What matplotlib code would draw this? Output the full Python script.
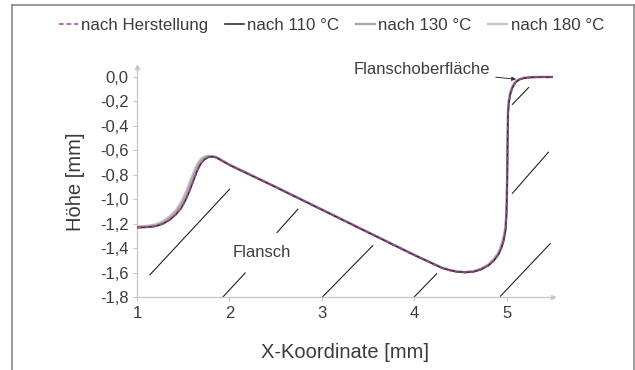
import matplotlib
matplotlib.use("Agg")
import matplotlib.pyplot as plt
from matplotlib.lines import Line2D

plt.rcParams['font.family'] = ['Liberation Sans', 'DejaVu Sans']

# Profil-Messung (x in mm, Höhe in mm)
x_mm = [1.00, 1.10, 1.20, 1.28, 1.35, 1.42, 1.48, 1.53, 1.57, 1.61, 1.65, 1.69, 1.73, 1.77,
        1.81, 1.86, 2.00, 2.50, 3.00, 3.50, 4.00, 4.30, 4.38, 4.46, 4.55, 4.64, 4.72, 4.80,
        4.86, 4.91, 4.94, 4.965, 4.985, 4.995, 5.003, 5.008, 5.012, 5.02, 5.035, 5.06, 5.09,
        5.13, 5.18, 5.25, 5.35, 5.50]

y_herstellung = [-1.23, -1.228, -1.22, -1.20, -1.17, -1.125, -1.07, -1.00, -0.93, -0.85, -0.77,
                 -0.71, -0.675, -0.657, -0.652, -0.66, -0.72, -0.90, -1.085, -1.27, -1.455, -1.56,
                 -1.58, -1.592, -1.597, -1.592, -1.574, -1.54, -1.50, -1.45, -1.40, -1.34, -1.26,
                 -1.15, -0.90, -0.55, -0.32, -0.22, -0.15, -0.09, -0.05, -0.025, -0.012, -0.005,
                 -0.003, -0.003]
y_110 = [-1.23, -1.228, -1.22, -1.20, -1.17, -1.125, -1.07, -1.00, -0.93, -0.85, -0.77,
         -0.71, -0.675, -0.657, -0.652, -0.66, -0.72, -0.90, -1.085, -1.27, -1.455, -1.56,
         -1.577, -1.59, -1.595, -1.59, -1.572, -1.54, -1.50, -1.45, -1.40, -1.34, -1.26,
         -1.15, -0.90, -0.55, -0.32, -0.22, -0.15, -0.09, -0.05, -0.025, -0.012, -0.005,
         -0.003, -0.003]
y_130 = [-1.225, -1.222, -1.212, -1.19, -1.155, -1.105, -1.04, -0.965, -0.89, -0.81, -0.735,
         -0.685, -0.66, -0.648, -0.648, -0.657, -0.717, -0.898, -1.083, -1.268, -1.453, -1.558,
         -1.576, -1.589, -1.594, -1.588, -1.568, -1.535, -1.49, -1.44, -1.385, -1.32, -1.24,
         -1.12, -0.86, -0.52, -0.30, -0.205, -0.14, -0.082, -0.045, -0.022, -0.01, -0.004,
         -0.002, -0.002]
y_180 = [-1.22, -1.217, -1.205, -1.18, -1.14, -1.09, -1.02, -0.94, -0.86, -0.785, -0.715,
         -0.67, -0.652, -0.645, -0.646, -0.655, -0.715, -0.896, -1.081, -1.266, -1.451, -1.556,
         -1.574, -1.587, -1.592, -1.586, -1.565, -1.53, -1.485, -1.43, -1.37, -1.30, -1.22,
         -1.10, -0.83, -0.50, -0.29, -0.195, -0.13, -0.076, -0.04, -0.02, -0.008, -0.003,
         -0.001, -0.001]

# Schraffur des Flansches (Start- und Endpunkte)
hatch_x0 = [1.14, 1.93, 2.515, 3.00, 3.98, 4.93, 5.06, 5.06]
hatch_y0 = [-1.615, -1.795, -1.27, -1.80, -1.81, -1.79, -0.95, -0.225]
hatch_x1 = [2.00, 2.17, 2.74, 3.55, 4.24, 5.47, 5.45, 5.235]
hatch_y1 = [-0.918, -1.60, -1.08, -1.377, -1.607, -1.36, -0.615, -0.088]

y_ticks = [0.0, -0.2, -0.4, -0.6, -0.8, -1.0, -1.2, -1.4, -1.6, -1.8]
x_ticks = [1, 2, 3, 4, 5]

txt = '#3c3c3c'
axis_col = '#c8c8c8'

fig = plt.figure(figsize=(6.35, 3.7), dpi=100)
ax = fig.add_axes([0.2157, 0.196, 0.6553, 0.623])

for x0, y0, x1, y1 in zip(hatch_x0, hatch_y0, hatch_x1, hatch_y1):
    ax.plot([x0, x1], [y0, y1], color='#222222', lw=0.8, zorder=2)

ax.plot(x_mm, y_180, color='#c4c4c4', lw=1.7, zorder=3, label='nach 180 °C')
ax.plot(x_mm, y_130, color='#a8a8a8', lw=1.7, zorder=3, label='nach 130 °C')
ax.plot(x_mm, y_110, color='#333333', lw=1.2, zorder=4, label='nach 110 °C')
ax.plot(x_mm, y_herstellung, color='#a53c9a', lw=1.1, dashes=(3, 2), zorder=5,
        label='nach Herstellung')

ax.set_xlim(1, 5.5)
ax.set_ylim(-1.8, 0.08)
ax.set_xticks(x_ticks)
ax.set_xticklabels([str(v) for v in x_ticks])
ax.set_yticks(y_ticks)
ax.set_yticklabels([f'{v:.1f}'.replace('.', ',').replace('-0,0', '0,0') for v in y_ticks])

for s in ['top', 'right']:
    ax.spines[s].set_visible(False)
for s in ['left', 'bottom']:
    ax.spines[s].set_color(axis_col)
    ax.spines[s].set_linewidth(1.0)
ax.tick_params(colors=axis_col, labelcolor=txt, labelsize=12, length=3, width=0.8)
ax.tick_params(axis='x', pad=3)
ax.tick_params(axis='y', pad=3)

# Pfeilspitzen an den Achsen
ax.plot(1, 0, '>', color=axis_col, ms=3, transform=ax.transAxes, clip_on=False)
ax.plot(0, 1, '^', color=axis_col, ms=3, transform=ax.transAxes, clip_on=False)

ax.set_xlabel('X-Koordinate [mm]', fontsize=14.5, color=txt, labelpad=16)
ax.set_ylabel('Höhe [mm]', fontsize=14.5, color=txt, labelpad=11)

ax.text(2.35, -1.43, 'Flansch', fontsize=12, color=txt, ha='center', va='center')
ax.annotate('Flanschoberfläche', xy=(5.1, -0.02), xytext=(4.82, 0.057),
            fontsize=12, color=txt, ha='right', va='center', annotation_clip=False,
            arrowprops=dict(arrowstyle='-|>', color='#333333', lw=0.7,
                            mutation_scale=6, shrinkA=2, shrinkB=0))

h, l = ax.get_legend_handles_labels()
order = [3, 2, 1, 0]
fig.legend([h[i] for i in order], [l[i] for i in order], loc='center',
           bbox_to_anchor=(0.522, 0.932), ncol=4, frameon=False, fontsize=12.2,
           handlelength=1.1, handletextpad=0.2, columnspacing=1.0, labelcolor=txt)

# Rahmen
frame_col = '#8a8a8a'
fig.add_artist(Line2D([0.019, 0.019], [0.0, 0.986], color=frame_col, lw=1.2))
fig.add_artist(Line2D([0.019, 0.999], [0.986, 0.986], color=frame_col, lw=1.2))
fig.add_artist(Line2D([0.999, 0.999], [0.0, 0.986], color=frame_col, lw=1.2))

fig.savefig('out.png', dpi=100)
